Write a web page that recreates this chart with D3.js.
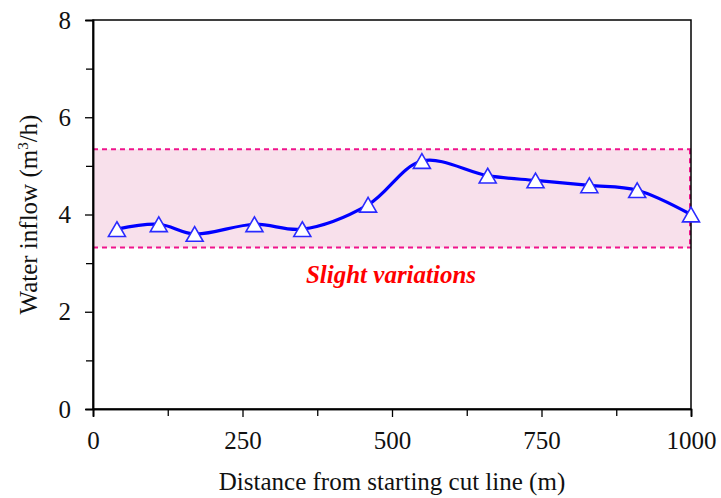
<!DOCTYPE html>
<html>
<head>
<meta charset="utf-8">
<script src="https://cdn.jsdelivr.net/npm/d3@7"></script>
<style>
  body { margin: 0; background: #fff; }
  svg text { font-family: "Liberation Serif", Tinos, "Times New Roman", "DejaVu Serif", serif !important; fill: #111; }
</style>
</head>
<body>
<svg id="chart" width="721" height="498"></svg>
<script>
// data
const distances = [40, 110, 170, 270, 350, 460, 550, 660, 740, 830, 910, 1000];
const inflow = [3.7, 3.8, 3.6, 3.8, 3.7, 4.2, 5.1, 4.8, 4.7, 4.6, 4.5, 4.0];
const bandRange = [3.32, 5.34];
const xTicks = [0, 250, 500, 750, 1000];
const xMinorTicks = [125, 375, 625, 875];
const yTicks = [0, 2, 4, 6, 8];
const yMinorTicks = [1, 3, 5, 7];

const W = 721, H = 498;
const margin = { top: 20, right: 30, bottom: 89, left: 93 };
const svg = d3.select('#chart');

const x = d3.scaleLinear().domain([0, 1000]).range([margin.left, W - margin.right]);
const y = d3.scaleLinear().domain([0, 8]).range([H - margin.bottom, margin.top]);

// pink band for the "slight variations" range
svg.append('rect')
  .attr('x', x(0))
  .attr('y', y(bandRange[1]))
  .attr('width', x(1000) - x(0))
  .attr('height', y(bandRange[0]) - y(bandRange[1]))
  .attr('fill', '#f8e0eb');

const dashColor = '#f0148c';
svg.selectAll('line.band')
  .data(bandRange)
  .enter().append('line')
  .attr('class', 'band')
  .attr('x1', x(0)).attr('x2', x(1000))
  .attr('y1', d => y(d)).attr('y2', d => y(d))
  .attr('stroke', dashColor)
  .attr('stroke-width', 2)
  .attr('stroke-dasharray', '5,4');

svg.append('line')
  .attr('x1', x(1000) - 1).attr('x2', x(1000) - 1)
  .attr('y1', y(bandRange[1])).attr('y2', y(bandRange[0]))
  .attr('stroke', dashColor)
  .attr('stroke-width', 2)
  .attr('stroke-dasharray', '5,4');

svg.append('text')
  .attr('x', 391)
  .attr('y', 283)
  .attr('text-anchor', 'middle')
  .style('fill', '#ff0000')
  .style('font-size', '25px')
  .style('font-style', 'italic')
  .style('font-weight', 'bold')
  .text('Slight variations');

// frame
svg.append('rect')
  .attr('x', x(0)).attr('y', y(8))
  .attr('width', x(1000) - x(0))
  .attr('height', y(0) - y(8))
  .attr('fill', 'none')
  .attr('stroke', '#000')
  .attr('stroke-width', 1.5);

// axes
svg.append('g')
  .attr('transform', `translate(0,${y(0)})`)
  .call(d3.axisBottom(x).tickValues(xTicks).tickSize(8).tickPadding(14).tickFormat(d3.format('d')));
svg.append('g')
  .attr('transform', `translate(0,${y(0)})`)
  .call(d3.axisBottom(x).tickValues(xMinorTicks).tickSize(7).tickFormat(''));

svg.append('g')
  .attr('transform', `translate(${x(0)},0)`)
  .call(d3.axisLeft(y).tickValues(yTicks).tickSize(8).tickPadding(14));
svg.append('g')
  .attr('transform', `translate(${x(0)},0)`)
  .call(d3.axisLeft(y).tickValues(yMinorTicks).tickSize(7).tickFormat(''));

svg.selectAll('.domain').attr('stroke', '#000').attr('stroke-width', 1.5);
svg.selectAll('.tick line').attr('stroke', '#000').attr('stroke-width', 1.3);
svg.selectAll('.tick text')
  .style('font-size', '25px')
  .attr('fill', '#111');

// axis titles
svg.append('text')
  .attr('x', x(500))
  .attr('y', 490)
  .attr('text-anchor', 'middle')
  .style('font-size', '25px')
  .text('Distance from starting cut line (m)');

const yTitle = svg.append('text')
  .attr('transform', `translate(37,${(y(0) + y(8)) / 2}) rotate(-90)`)
  .attr('text-anchor', 'middle')
  .style('font-size', '25px');
yTitle.append('tspan').text('Water inflow (m');
yTitle.append('tspan').attr('dy', -9).style('font-size', '15px').text('3');
yTitle.append('tspan').attr('dy', 9).text('/h)');

// smoothed series
const pts = distances.map((d, i) => [d, inflow[i]]);
const line = d3.line()
  .x(d => x(d[0]))
  .y(d => y(d[1]))
  .curve(d3.curveCatmullRom.alpha(0.5));

svg.append('path')
  .datum(pts)
  .attr('d', line)
  .attr('fill', 'none')
  .attr('stroke', '#0000ff')
  .attr('stroke-width', 3.2);

// triangle markers, bbox centred on the point
const triSize = 125;
const triR = Math.sqrt(triSize / (Math.sqrt(3) * 3));
svg.selectAll('path.marker')
  .data(pts)
  .enter().append('path')
  .attr('class', 'marker')
  .attr('d', d3.symbol().type(d3.symbolTriangle).size(triSize))
  .attr('transform', d => `translate(${x(d[0])},${y(d[1]) + triR / 2})`)
  .attr('fill', '#fff')
  .attr('stroke', '#2a2aff')
  .attr('stroke-width', 1.6);
</script>
</body>
</html>
